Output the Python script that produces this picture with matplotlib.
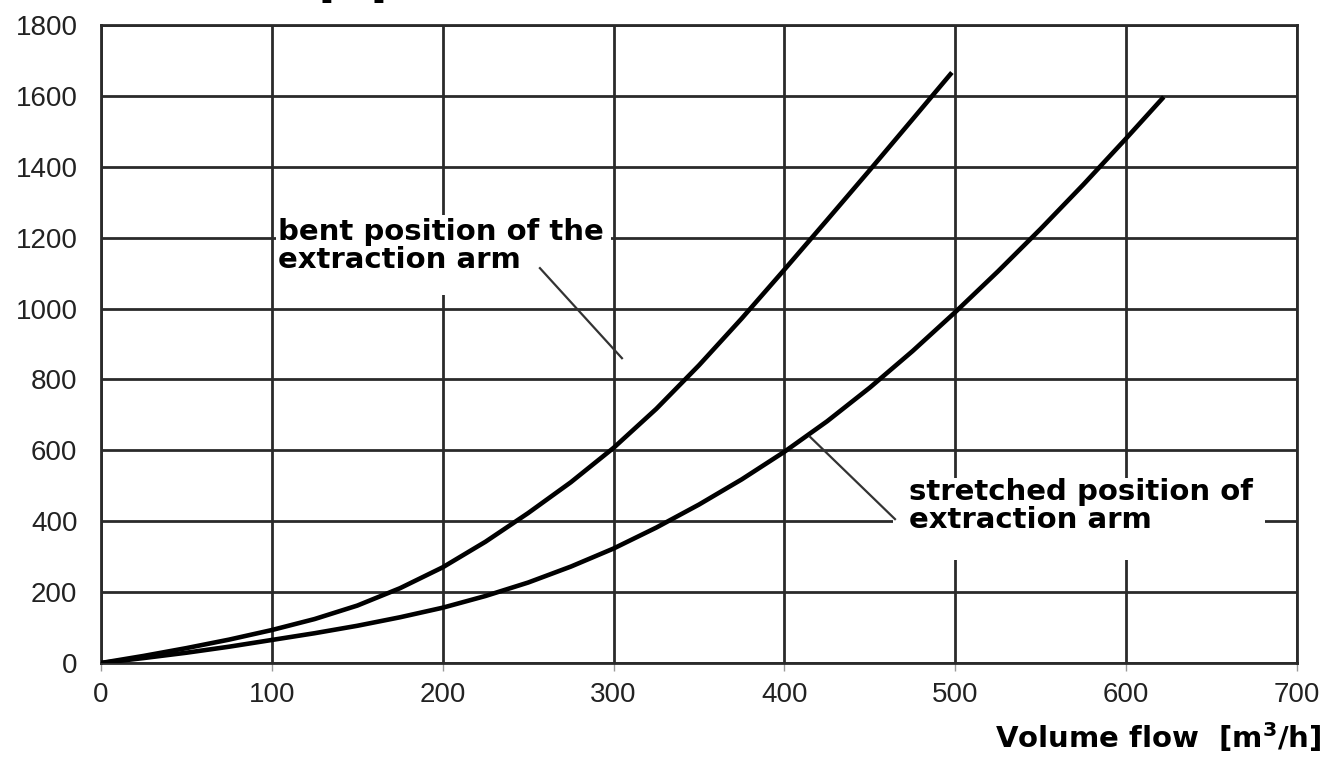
"""Pressure loss vs. volume flow for an extraction arm (bent / stretched)."""
import matplotlib
matplotlib.use("Agg")
import matplotlib.pyplot as plt
from matplotlib.patches import Rectangle

# curve points
bent_flow = [0, 25, 50, 75, 100, 125, 150, 175, 200, 225, 250, 275, 300,
             325, 350, 375, 400, 425, 450, 475, 498]
bent_dp = [0, 20, 42, 66, 93, 124, 162, 211, 270, 342, 423, 510, 607,
           717, 840, 972, 1110, 1250, 1391, 1534, 1666]

stretched_flow = [0, 25, 50, 75, 100, 125, 150, 175, 200, 225, 250, 275, 300,
                  325, 350, 375, 400, 425, 450, 475, 500, 525, 550, 575, 600, 622]
stretched_dp = [0, 14, 29, 46, 65, 84, 105, 129, 156, 189, 227, 272, 323,
                382, 447, 518, 596, 682, 777, 880, 990, 1105, 1225, 1350, 1480, 1597]

x_ticks = [0, 100, 200, 300, 400, 500, 600, 700]
y_ticks = [0, 200, 400, 600, 800, 1000, 1200, 1400, 1600, 1800]

GRID = "#2a2a2a"
TICK_FONT = "Liberation Sans"

fig = plt.figure(figsize=(13.27, 7.58), dpi=100)
ax = fig.add_axes([101 / 1327, 1 - 663 / 758, 1196 / 1327, 638 / 758])

ax.set_xlim(0, 700)
ax.set_ylim(0, 1800)
ax.set_xticks(x_ticks)
ax.set_yticks(y_ticks)
ax.set_axisbelow(True)
ax.grid(True, color=GRID, lw=2.0)
for sp in ax.spines.values():
    sp.set_color(GRID)
    sp.set_linewidth(2.0)

ax.tick_params(axis="x", length=6, width=1, color="#999999", pad=8,
               labelsize=20, labelcolor="#222222")
ax.tick_params(axis="y", length=0, pad=17, labelsize=20, labelcolor="#222222")
for lab in ax.get_xticklabels() + ax.get_yticklabels():
    lab.set_fontfamily(TICK_FONT)

# white patches behind the labels (they break the grid lines)
ax.add_patch(Rectangle((102.4, 1038), 196.1, 226, facecolor="white",
                       edgecolor="none", zorder=1))
ax.add_patch(Rectangle((463.5, 290), 217.5, 232, facecolor="white",
                       edgecolor="none", zorder=1))

ax.plot(bent_flow, bent_dp, color="black", lw=3.3, zorder=3,
        solid_capstyle="butt", solid_joinstyle="round")
ax.plot(stretched_flow, stretched_dp, color="black", lw=3.3, zorder=3,
        solid_capstyle="butt", solid_joinstyle="round")

# leader lines
ax.plot([256.9, 304.9], [1114, 860], color="#333333", lw=1.6, zorder=3)
ax.plot([415.0, 464.7], [638, 406], color="#333333", lw=1.6, zorder=3)

label_kw = dict(fontsize=21, fontweight="bold", color="black",
                family="DejaVu Sans", zorder=4, linespacing=1.0)
ax.text(103.5, 1255, "bent position of the\nextraction arm", va="top",
        ha="left", **label_kw)
ax.text(473, 522, "stretched position of\nextraction arm", va="top",
        ha="left", **label_kw)

fig.text(1322 / 1327, 10 / 758, "Volume flow  [m$^\\mathbf{3}$/h]",
         ha="right", va="baseline", fontsize=21, fontweight="bold",
         family="DejaVu Sans")
# y-axis title, cut off at the top edge in the source (only the
# bracket tails show)
fig.text(40 / 1327, 1 + 1 / 758, "Pressure loss", ha="left", va="baseline",
         fontsize=21, fontweight="bold", color="black", family="DejaVu Sans")
fig.text(320 / 1327, 1 + 1 / 758, "[Pa]", ha="left", va="baseline",
         fontsize=21, fontweight="bold", color="black", family="DejaVu Sans")

fig.savefig("out.png", dpi=100, facecolor="white")
